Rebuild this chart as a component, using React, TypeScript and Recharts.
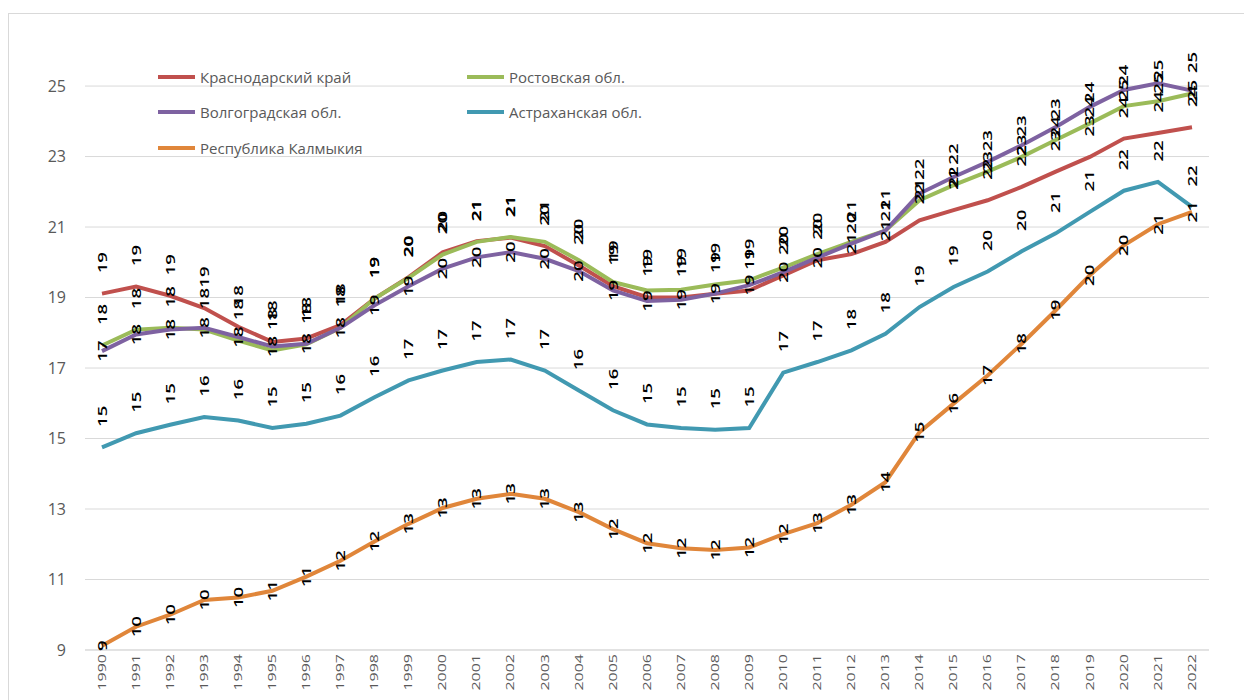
import { CartesianGrid, LabelList, Legend, Line, LineChart, XAxis, YAxis } from "recharts";

const years = [
  "1990", "1991", "1992", "1993", "1994", "1995", "1996", "1997", "1998", "1999", "2000",
  "2001", "2002", "2003", "2004", "2005", "2006", "2007", "2008", "2009", "2010", "2011",
  "2012", "2013", "2014", "2015", "2016", "2017", "2018", "2019", "2020", "2021", "2022",
];

const krasnodar = [
  19.11, 19.31, 19.05, 18.7, 18.17, 17.74, 17.84, 18.22, 18.97, 19.58, 20.28, 20.6, 20.7, 20.46, 19.91, 19.32, 19.01,
  19.0, 19.11, 19.2, 19.63, 20.06, 20.23, 20.58, 21.19, 21.48, 21.76, 22.14, 22.57, 22.99, 23.51, 23.67, 23.83,
];
const rostov = [
  17.64, 18.09, 18.14, 18.09, 17.78, 17.5, 17.67, 18.14, 18.97, 19.56, 20.22, 20.58, 20.72, 20.58, 20.06, 19.44, 19.2,
  19.22, 19.37, 19.49, 19.85, 20.23, 20.58, 20.9, 21.76, 22.19, 22.57, 22.99, 23.47, 23.94, 24.43, 24.57, 24.79,
];
const volgograd = [
  17.48, 17.95, 18.09, 18.14, 17.88, 17.61, 17.69, 18.14, 18.78, 19.32, 19.82, 20.14, 20.29, 20.1, 19.75, 19.2, 18.9,
  18.94, 19.11, 19.35, 19.72, 20.13, 20.53, 20.9, 21.95, 22.42, 22.85, 23.32, 23.84, 24.41, 24.89, 25.08, 24.87,
];
const astrakhan = [
  14.75, 15.15, 15.39, 15.61, 15.51, 15.3, 15.42, 15.65, 16.17, 16.65, 16.93, 17.17, 17.24, 16.93, 16.36, 15.8, 15.4,
  15.3, 15.25, 15.3, 16.87, 17.17, 17.5, 17.97, 18.73, 19.3, 19.74, 20.31, 20.82, 21.43, 22.03, 22.28, 21.57,
];
const kalmykia = [
  9.12, 9.66, 10.0, 10.42, 10.49, 10.68, 11.08, 11.53, 12.08, 12.58, 13.03, 13.29, 13.43, 13.29, 12.91, 12.43, 12.03,
  11.89, 11.84, 11.91, 12.29, 12.6, 13.12, 13.76, 15.18, 15.99, 16.79, 17.69, 18.64, 19.63, 20.48, 21.08, 21.43,
];

const yTicks = [9, 11, 13, 15, 17, 19, 21, 23, 25];

const data = years.map((year, i) => ({
  year,
  krasnodar: krasnodar[i],
  rostov: rostov[i],
  volgograd: volgograd[i],
  astrakhan: astrakhan[i],
  kalmykia: kalmykia[i],
}));

// labelShift: how far above the point the (rotated) value label sits
const series = [
  { key: "krasnodar", name: "Краснодарский край", color: "#c0504d", labelShift: 31 },
  { key: "rostov", name: "Ростовская обл.", color: "#9bbb59", labelShift: 31 },
  { key: "volgograd", name: "Волгоградская обл.", color: "#7e62a1", labelShift: 0 },
  { key: "astrakhan", name: "Астраханская обл.", color: "#4199b1", labelShift: 31 },
  { key: "kalmykia", name: "Республика Калмыкия", color: "#e0863a", labelShift: 0 },
];

const FONT = "'Open Sans', sans-serif";

const makeLabel = (shift: number) => (props: any) => {
  const { x, y, value } = props;
  const cy = y - shift;
  return (
    <g transform={`translate(${x},${cy}) rotate(-90) scale(1.55,1)`}>
      <text
        x={0}
        y={0}
        textAnchor="middle"
        dominantBaseline="central"
        fontSize={12}
        fontWeight={600}
        fontFamily={FONT}
        fill="#000"
      >
        {Math.round(value)}
      </text>
    </g>
  );
};

const YearTick = (props: any) => {
  const { x, y, payload } = props;
  return (
    <g transform={`translate(${x},${y - 4}) rotate(-90) scale(1.6,1)`}>
      <text x={0} y={0} textAnchor="end" dominantBaseline="central" fontSize={10} fontFamily={FONT} fill="#595959">
        {payload.value}
      </text>
    </g>
  );
};

const LegendBox = () => (
  <div
    style={{
      display: "grid",
      gridTemplateColumns: "309px 260px",
      gridAutoRows: "35.5px",
      fontFamily: FONT,
      fontSize: 15,
      color: "#595959",
    }}
  >
    {series.map((s) => (
      <div key={s.key} style={{ display: "flex", alignItems: "center", whiteSpace: "nowrap" }}>
        <span style={{ display: "inline-block", width: 37, height: 4, background: s.color, marginRight: 5 }} />
        {s.name}
      </div>
    ))}
  </div>
);

export default function App() {
  return (
    <div
      style={{
        position: "fixed",
        left: 0,
        top: 0,
        width: 1244,
        height: 700,
        overflow: "hidden",
        background: "#fff",
      }}
    >
      <div
        style={{
          position: "absolute",
          left: 8,
          top: 13,
          width: 1250,
          height: 700,
          border: "1px solid #d9d9d9",
        }}
      />
      <div style={{ position: "absolute", left: 0, top: 0 }}>
        <LineChart width={1244} height={700} data={data} margin={{ top: 50.8, right: 35, bottom: 0, left: 25 }}>
          <CartesianGrid vertical={false} horizontalValues={yTicks} stroke="#d9d9d9" strokeWidth={1} />
          <XAxis
            dataKey="year"
            interval={0}
            padding={{ left: 17, right: 17 }}
            height={50}
            tickLine={false}
            axisLine={{ stroke: "#d9d9d9" }}
            tick={<YearTick />}
          />
          <YAxis
            domain={[9, 26]}
            ticks={yTicks}
            width={60}
            axisLine={false}
            tickLine={false}
            tickMargin={13}
            tick={{ fontSize: 16, fontFamily: FONT, fill: "#595959" }}
          />
          <Legend
            layout="vertical"
            align="center"
            verticalAlign="middle"
            content={<LegendBox />}
            wrapperStyle={{ top: 59, left: 158, width: 600, height: 107 }}
          />
          {series.map((s) => (
            <Line
              key={s.key}
              type="linear"
              dataKey={s.key}
              name={s.name}
              stroke={s.color}
              strokeWidth={4}
              dot={false}
              isAnimationActive={false}
            >
              <LabelList dataKey={s.key} content={makeLabel(s.labelShift)} />
            </Line>
          ))}
        </LineChart>
      </div>
    </div>
  );
}
